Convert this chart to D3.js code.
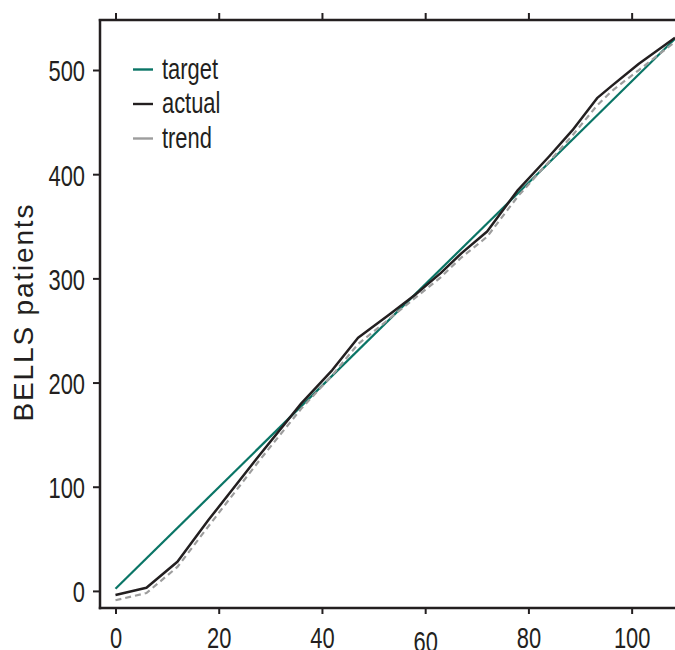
<!DOCTYPE html>
<html>
<head>
<meta charset="utf-8">
<script src="https://cdn.jsdelivr.net/npm/d3@7"></script>
<style>
  html, body { margin: 0; padding: 0; background: #fff; overflow: hidden; }
  svg { display: block; }
</style>
</head>
<body>
<svg id="chart" width="675" height="650"></svg>
<script>
// ---- data ----
const xTicks = [0, 20, 40, 60, 80, 100];
const yTicks = [0, 100, 200, 300, 400, 500];
const targetX = [0, 108.4];
const targetY = [2, 530];
const actualX = [0, 6, 12, 18, 28, 36, 42, 47, 53, 58, 63, 67, 72, 78, 84, 88.5, 93.3, 96.2, 101.4, 108.4];
const actualY = [-4, 3, 28, 68, 131, 180, 212, 243, 265, 284, 305, 324, 345, 385, 417, 442, 473, 485, 506, 531];
const trendX = [0, 6, 12, 18, 28, 36, 42, 47, 53, 58, 63, 67, 72, 78, 84, 88.5, 93.3, 96.2, 101.4, 108.4];
const trendY = [-9, -2, 23, 62, 126, 175, 207, 237, 261, 281, 301, 320, 340, 379, 412, 437, 466, 480, 500, 527];
const seriesNames = ["target", "actual", "trend"];
const yLabel = "BELLS patients";

// ---- layout ----
const svg = d3.select("#chart");
const mLeft = 100, mRight = 675, mTop = 20, mBottom = 608;
const x = d3.scaleLinear().domain([-3.0, 108.4]).range([mLeft, mRight]);
const y = d3.scaleLinear().domain([-16.4, 548]).range([mBottom, mTop]);
const ink = "#231f20";
const sx = 0.73;

svg.append("defs").append("clipPath").attr("id", "plotclip")
  .append("rect").attr("x", mLeft).attr("y", mTop).attr("width", mRight - mLeft).attr("height", mBottom - mTop);

const line = d3.line().x(d => x(d[0])).y(d => y(d[1]));
const zip = (a, b) => a.map((v, i) => [v, b[i]]);

const g = svg.append("g").attr("clip-path", "url(#plotclip)");
g.append("path").datum(zip(targetX, targetY)).attr("d", line)
  .attr("fill", "none").attr("stroke", "#0a7566").attr("stroke-width", 2.2);
g.append("path").datum(zip(trendX, trendY)).attr("d", line)
  .attr("fill", "none").attr("stroke", "#9d9d9d").attr("stroke-width", 2.2)
  .attr("stroke-dasharray", "6,4");
g.append("path").datum(zip(actualX, actualY)).attr("d", line)
  .attr("fill", "none").attr("stroke", ink).attr("stroke-width", 2.5)
  .attr("stroke-linejoin", "round");

// ---- axes ----
function styleAxis(sel) {
  sel.select(".domain").remove();
  sel.selectAll(".tick line").attr("stroke", ink).attr("stroke-width", 2);
  sel.selectAll("text").attr("fill", ink)
    .style("font-family", "'Liberation Sans', Arial, sans-serif").style("font-size", "30px");
}

const yAxis = svg.append("g").attr("transform", `translate(${mLeft},0)`)
  .call(d3.axisLeft(y).tickValues(yTicks).tickSize(7).tickPadding(0).tickFormat(d3.format("d")));
styleAxis(yAxis);
yAxis.selectAll("text")
  .attr("x", -15 / sx).attr("dy", "0.36em")
  .attr("transform", `scale(${sx},1)`);

const xAxis = svg.append("g").attr("transform", `translate(0,${mBottom})`)
  .call(d3.axisBottom(x).tickValues(xTicks).tickSize(6).tickFormat(d3.format("d")));
styleAxis(xAxis);
xAxis.selectAll(".tick").each(function(d) {
  const t = d3.select(this).select("text");
  t.attr("y", 0).attr("dy", 0)
   .attr("transform", `translate(0,${d === 60 ? 44 : 39.5}) scale(${sx},1)`);
});

const xTop = svg.append("g").attr("transform", `translate(0,${mTop})`)
  .call(d3.axisTop(x).tickValues(xTicks).tickSize(7).tickFormat(""));
styleAxis(xTop);

// frame lines (left, bottom, top)
svg.append("line").attr("x1", mLeft).attr("x2", mLeft).attr("y1", mTop - 1).attr("y2", mBottom + 1.2)
  .attr("stroke", ink).attr("stroke-width", 2.5);
svg.append("line").attr("x1", mLeft - 1.2).attr("x2", mRight).attr("y1", mBottom).attr("y2", mBottom)
  .attr("stroke", ink).attr("stroke-width", 2.5);
svg.append("line").attr("x1", mLeft - 1.2).attr("x2", mRight).attr("y1", mTop).attr("y2", mTop)
  .attr("stroke", ink).attr("stroke-width", 2.5);

// ---- y label ----
svg.append("text")
  .attr("transform", "translate(33,313) rotate(-90)")
  .attr("text-anchor", "middle")
  .attr("fill", ink)
  .attr("textLength", 217)
  .attr("lengthAdjust", "spacing")
  .style("font-family", "'Liberation Sans', Arial, sans-serif")
  .style("font-size", "28px")
  .text(yLabel);

// ---- legend ----
const legendColors = ["#0a7566", ink, "#9d9d9d"];
const legendY = [69.5, 104, 138.5];
const lg = svg.append("g");
seriesNames.forEach((name, i) => {
  lg.append("line").attr("x1", 133).attr("x2", 153).attr("y1", legendY[i]).attr("y2", legendY[i])
    .attr("stroke", legendColors[i]).attr("stroke-width", 2.4);
  lg.append("text")
    .attr("transform", `translate(162,${legendY[i] + 9}) scale(${sx},1)`)
    .attr("fill", ink)
    .style("font-family", "'Liberation Sans', Arial, sans-serif")
    .style("font-size", "30px")
    .text(name);
});
</script>
</body>
</html>
